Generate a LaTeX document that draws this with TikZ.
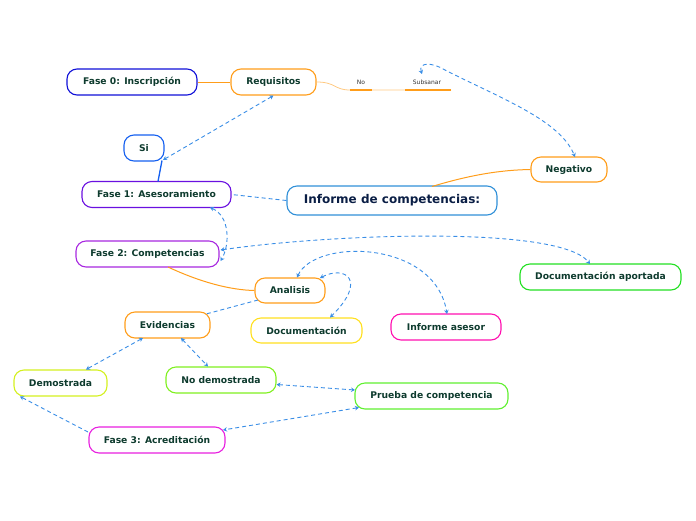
\documentclass[tikz,border=0pt]{standalone}
\usepackage{fontspec}
\setmainfont{DejaVu Sans}
\usetikzlibrary{arrows.meta}
\definecolor{txt}{HTML}{0E3B2E}
\definecolor{lnk}{HTML}{3A8EE6}
\definecolor{cblue}{HTML}{1010D8}
\definecolor{corange}{HTML}{FF9D1A}
\definecolor{csi}{HTML}{1560F0}
\definecolor{cpurp}{HTML}{6A10E0}
\definecolor{cinf}{HTML}{3090D8}
\definecolor{cmag}{HTML}{A828E0}
\definecolor{cgreen}{HTML}{22E022}
\definecolor{cyellow}{HTML}{FFE020}
\definecolor{cpink}{HTML}{FF10B0}
\definecolor{cyg}{HTML}{D4F020}
\definecolor{clime}{HTML}{80F020}
\definecolor{cgr2}{HTML}{60F030}
\definecolor{cmag2}{HTML}{E820E0}
\definecolor{navy}{HTML}{0A1E45}
\begin{document}
\begin{tikzpicture}[x=1pt,y=-1pt,
  box/.style={draw, line width=1.1pt, rounded corners=10pt, fill=white, inner sep=0pt,
    minimum height=26pt, font=\bfseries\fontsize{9.2}{10}\selectfont, text=txt},
  small/.style={inner sep=0pt, font=\fontsize{6}{7}\selectfont, text=black!80},
  link/.style={draw=lnk, dash pattern=on 4pt off 3pt, line width=0.9pt},
  both/.style={link, {Stealth[length=4pt,width=4.5pt]}-{Stealth[length=4pt,width=4.5pt]}},
  toend/.style={link, -{Stealth[length=4pt,width=4.5pt]}}]
\useasboundingbox (0,0) rectangle (696,520);

% nodes
\node[box, draw=cblue, minimum width=130pt] (f0) at (132,82) {Fase 0: Inscripción};
\node[box, draw=corange, minimum width=85pt] (req) at (273.5,82) {Requisitos};
\node[small] (no) at (361,82) {No};
\node[small] (sub) at (427,82) {Subsanar};
\node[box, draw=csi, minimum width=40pt] (si) at (144,148) {Si};
\node[box, draw=cpurp, minimum width=149pt] (f1) at (156.5,194.5) {Fase 1: Asesoramiento};
\node[box, draw=cinf, minimum width=210pt, minimum height=29pt, font=\bfseries\fontsize{12}{13}\selectfont, text=navy] (inf) at (392,200.5) {Informe de competencias:};
\node[box, draw=corange, minimum width=76pt, minimum height=25pt] (neg) at (569,169.5) {Negativo};
\node[box, draw=cmag, minimum width=143pt] (f2) at (147.5,254) {Fase 2: Competencias};
\node[box, draw=cgreen, minimum width=161pt] (doc2) at (600.5,277) {Documentación aportada};
\node[box, draw=corange, minimum width=70pt, minimum height=25pt] (ana) at (290,290.5) {Analisis};
\node[box, draw=cyellow, minimum width=111pt, minimum height=25pt] (doc) at (306.5,330.5) {Documentación};
\node[box, draw=cpink, minimum width=110pt] (ias) at (446,327) {Informe asesor};
\node[box, draw=corange, minimum width=85pt] (evi) at (167.5,325) {Evidencias};
\node[box, draw=cyg, minimum width=93pt] (dem) at (60.5,383) {Demostrada};
\node[box, draw=clime, minimum width=110pt] (nodem) at (221,380) {No demostrada};
\node[box, draw=cgr2, minimum width=153pt] (pru) at (431.5,396) {Prueba de competencia};
\node[box, draw=cmag2, minimum width=136pt] (f3) at (157,440) {Fase 3: Acreditación};

% coordinates on the lower line
\coordinate (noL) at (350,90);
\coordinate (noR) at (372,90);
\coordinate (subL) at (405,90);
\coordinate (subR) at (451,90);

% solid connectors
\draw[corange, line width=1pt] (f0.east) -- (req.west);
\draw[corange!55, line width=0.8pt] (req.east) .. controls (336,82) and (334,90) .. (noL) -- (subR);
\draw[corange, line width=1.6pt] (noL) -- (noR);
\draw[corange, line width=1.6pt] (subL) -- (subR);
\draw[csi, line width=1.3pt] (158,181.5) -- (162,160.5);
\draw[corange, line width=1pt] (432,186.5) .. controls (470,175) and (500,170) .. (neg.west);
\draw[corange, line width=1pt] (168,267) .. controls (200,282) and (230,290) .. (ana.west);

% dashed connectors
\draw[both] (163,160) -- (req.south);
\draw[both] (422,74) .. controls (418,62) and (432,62) .. (445,70) .. controls (500,98) and (560,120) .. (575,157);
\draw[link] (inf.west) -- (f1.east);
\draw[both] (210,207.5) .. controls (230,216) and (230,245) .. (220.5,261);
\draw[both] (220.5,250) .. controls (330,234) and (560,225) .. (590,264);
\draw[both] (297,277.5) .. controls (315,238) and (435,240) .. (447,314);
\draw[both] (320,278) .. controls (345,265) and (368,280) .. (330,317.5);
\draw[link] (258,300) -- (206,314);
\draw[both] (143,338) -- (86,369.5);
\draw[both] (181,338) -- (208,366.5);
\draw[both] (276.5,384.5) -- (355,390);
\draw[both] (359,407.5) -- (223,430);
\draw[toend] (88,432) -- (20,396.5);
\end{tikzpicture}
\end{document}
